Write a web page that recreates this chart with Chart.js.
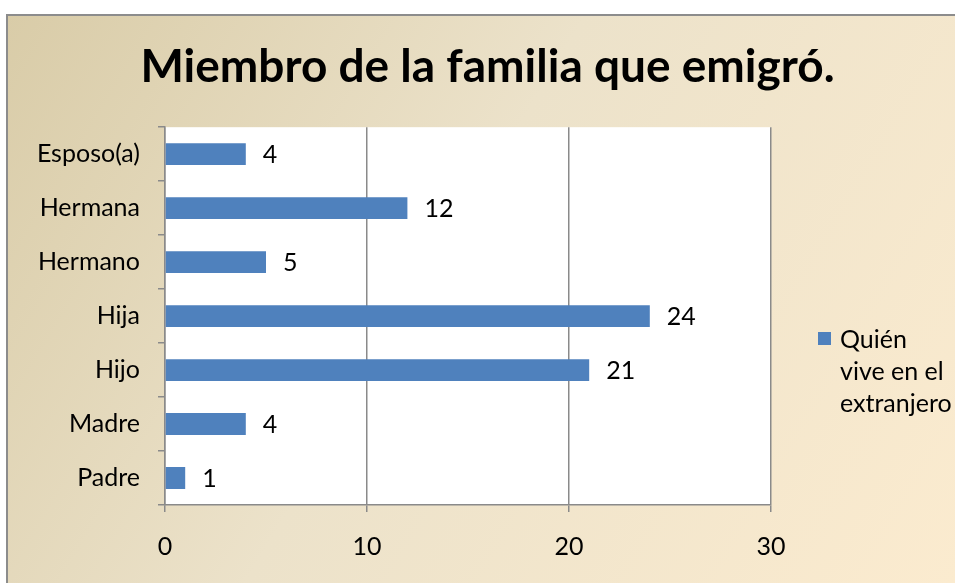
<!DOCTYPE html>
<html>
<head>
<meta charset="utf-8">
<script src="https://cdn.jsdelivr.net/npm/chart.js@4"></script>
<style>
  body { margin: 0; background: #fff; }
  #wrap { width: 955px; height: 583px; }
</style>
</head>
<body>
<div id="wrap"><canvas id="myChart" width="955" height="583"></canvas></div>
<script>
// data
const categories = ['Esposo(a)', 'Hermana', 'Hermano', 'Hija', 'Hijo', 'Madre', 'Padre'];
const values = [4, 12, 5, 24, 21, 4, 1];
const seriesName = ['Quién', 'vive en el', 'extranjero'];
const xMin = 0;
const xMax = 30;
const xStep = 10;

const barColor = '#4F81BD';
const lineColor = '#8a8a8a';
const font = 'Lato';
const textSize = 25;

// frame + gradient + white plot area
const backgroundPlugin = {
  id: 'backgroundPlugin',
  beforeDraw: function(chart) {
    const ctx = chart.ctx;
    const w = chart.width;
    const h = chart.height;
    ctx.save();
    ctx.fillStyle = '#ffffff';
    ctx.fillRect(0, 0, w, h);
    const grad = ctx.createLinearGradient(7, 15, w, h);
    grad.addColorStop(0, '#d9cca8');
    grad.addColorStop(0.45, '#ece2ca');
    grad.addColorStop(1, '#fbebcf');
    ctx.fillStyle = grad;
    ctx.fillRect(7, 15, w - 7, h - 15);
    ctx.strokeStyle = '#8c8c8c';
    ctx.lineWidth = 2;
    ctx.beginPath();
    ctx.moveTo(7, h);
    ctx.lineTo(7, 15);
    ctx.lineTo(w, 15);
    ctx.stroke();
    const a = chart.chartArea;
    ctx.fillStyle = '#ffffff';
    ctx.fillRect(a.left, a.top, a.right - a.left, a.bottom - a.top);
    ctx.restore();
  }
};

// value next to each bar
const valueLabels = {
  id: 'valueLabels',
  afterDatasetsDraw: function(chart) {
    const ctx = chart.ctx;
    const meta = chart.getDatasetMeta(0);
    ctx.save();
    ctx.font = textSize + 'px ' + font;
    ctx.fillStyle = '#000';
    ctx.textAlign = 'left';
    ctx.textBaseline = 'middle';
    meta.data.forEach(function(bar, i) {
      ctx.fillText(String(chart.data.datasets[0].data[i]), bar.x + 17, bar.y + 1);
    });
    ctx.restore();
  }
};

// legend on the right, wrapped on three lines like the original
const sideLegend = {
  id: 'sideLegend',
  afterDraw: function(chart) {
    const ctx = chart.ctx;
    const x = chart.chartArea.right + 47;
    const y = 332;
    ctx.save();
    ctx.fillStyle = chart.data.datasets[0].backgroundColor;
    ctx.fillRect(x, y, 13, 13);
    ctx.font = textSize + 'px ' + font;
    ctx.fillStyle = '#000';
    ctx.textAlign = 'left';
    ctx.textBaseline = 'alphabetic';
    seriesName.forEach(function(line, i) {
      ctx.fillText(line, x + 22, y + 16 + i * 32);
    });
    ctx.restore();
  }
};

const ctx = document.querySelector('#myChart').getContext('2d');

// eslint-disable-next-line no-undef
new Chart(ctx, {
  type: 'bar',
  data: {
    labels: categories,
    datasets: [{
      label: seriesName.join(' '),
      data: values,
      backgroundColor: barColor,
      borderWidth: 0,
      barPercentage: 0.9,
      categoryPercentage: 0.45
    }]
  },
  options: {
    indexAxis: 'y',
    responsive: false,
    animation: false,
    layout: {
      padding: { left: 20, right: 0, top: 15, bottom: 0 }
    },
    scales: {
      x: {
        min: xMin,
        max: xMax,
        ticks: {
          stepSize: xStep,
          color: '#000',
          font: { family: font, size: textSize },
          padding: 20
        },
        grid: {
          color: lineColor,
          lineWidth: 1.5,
          tickLength: 7
        },
        border: { color: lineColor, width: 1.5 },
        afterFit: function(scale) { scale.height = 78; }
      },
      y: {
        ticks: {
          color: '#000',
          font: { family: font, size: textSize },
          padding: 18
        },
        grid: {
          offset: true,
          drawOnChartArea: false,
          color: lineColor,
          lineWidth: 1.5,
          tickLength: 7
        },
        border: { color: lineColor, width: 1.5 },
        afterFit: function(scale) { scale.width = 145; }
      },
      yRight: {
        axis: 'y',
        type: 'linear',
        position: 'right',
        ticks: { display: false },
        grid: { display: false },
        border: { display: false },
        afterFit: function(scale) { scale.width = 184; }
      }
    },
    plugins: {
      legend: { display: false },
      tooltip: { enabled: false },
      title: {
        display: true,
        text: 'Miembro de la familia que emigró.',
        color: '#000',
        font: { family: font, size: 46, weight: 'bold' },
        padding: { top: 25, bottom: 32 }
      }
    }
  },
  plugins: [backgroundPlugin, valueLabels, sideLegend]
});
</script>
</body>
</html>
